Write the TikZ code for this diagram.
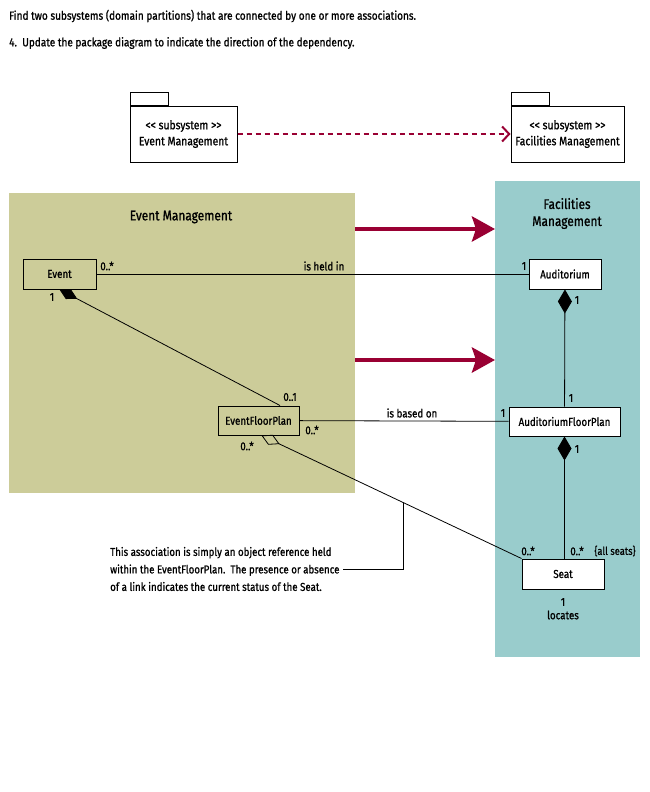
\documentclass[tikz,border=0pt]{standalone}
\usepackage{fontspec}
\setmainfont{Fira Sans}[FakeStretch=0.85, FakeBold=1]
\usetikzlibrary{
  arrows.meta,
  positioning
}
\definecolor{emolive}{RGB}{204,204,153}
\definecolor{fmteal}{RGB}{153,204,204}
\definecolor{depred}{RGB}{153,0,51}

\begin{document}
\begin{tikzpicture}[x=1pt, y=-1pt, font=\fontsize{11.5}{13}\selectfont,
  classbox/.style={draw, line width=1pt, inner sep=0pt, minimum height=30pt},
  pkgbox/.style={draw, fill=white, line width=1pt, inner sep=0pt, minimum height=56pt,
    align=center, font=\fontsize{12.2}{16}\selectfont},
  pkgtab/.style={draw, fill=white, line width=1pt, inner sep=0pt, minimum width=38pt,
    minimum height=13pt, anchor=south west},
  region/.style={inner sep=0pt, outer sep=0pt},
  regiontitle/.style={font=\fontsize{14}{17}\selectfont, align=center, inner sep=0pt},
  mult/.style={inner sep=0pt},
  assoc/.style={line width=0.8pt},
  dependency/.style={depred, line width=2pt, dash pattern=on 5pt off 4pt,
    -{Straight Barb[length=7pt, width=15pt]}},
  bigarrow/.style={depred, line width=4.5pt, -{Stealth[length=23pt, width=25pt, inset=4pt]}}
]
  \useasboundingbox (0,0) rectangle (650,792);
  \fill[white] (0,0) rectangle (650,792);

  % Instructions
  \node[anchor=west, inner sep=0pt, font=\fontsize{11.8}{13}\selectfont] (task) at (9,16)
    {Find two subsystems (domain partitions) that are connected by one or more associations.};
  \node[anchor=west, inner sep=0pt, font=\fontsize{11.8}{13}\selectfont] (stepfour) at (9,43)
    {4.\ \ Update the package diagram to indicate the direction of the dependency.};

  % Packages
  \node[pkgbox, minimum width=107pt] (empkg) at (183.5,134) {<{}< subsystem >{}>\\Event Management};
  \node[pkgtab] (emtab) at (empkg.north west) {};
  \node[pkgbox, minimum width=113pt] (fmpkg) at (567.5,134) {<{}< subsystem >{}>\\Facilities Management};
  \node[pkgtab] (fmtab) at (fmpkg.north west) {};
  \draw[dependency] (empkg) -- (fmpkg);

  % Subsystem regions
  \node[region, fill=emolive, minimum width=346pt, minimum height=300pt] (emregion) at (182,343) {};
  \node[region, fill=fmteal, minimum width=145pt, minimum height=476pt] (fmregion) at (567.5,419) {};
  \node[regiontitle] (emtitle) at (181,217) {Event Management};
  \node[regiontitle] (fmtitle) at (567,213.5) {Facilities\\Management};

  % Dependency arrows
  \coordinate (upperlane) at (0,229);
  \coordinate (lowerlane) at (0,360);
  \draw[bigarrow] (emregion.east |- upperlane) -- (fmregion.west |- upperlane);
  \draw[bigarrow] (emregion.east |- lowerlane) -- (fmregion.west |- lowerlane);

  % Classes
  \node[classbox, fill=emolive, minimum width=73pt] (event) at (59.5,274) {Event};
  \node[classbox, fill=emolive, minimum width=81pt, minimum height=29pt] (efp) at (258.5,420.5) {EventFloorPlan};
  \node[classbox, fill=white, minimum width=72pt] (auditorium) at (565,274) {Auditorium};
  \node[classbox, fill=white, minimum width=111pt, minimum height=29pt] (afp) at (564.5,421.5) {AuditoriumFloorPlan};
  \node[classbox, fill=white, minimum width=82pt] (seat) at (563,574) {Seat};

  % Associations
  \draw[assoc] (event) -- (auditorium);
  \draw[assoc] (efp) -- (afp);
  \draw[assoc, {Diamond[length=20pt, width=11pt]}-] (event.south) -- ([xshift=21.5pt]efp.north);
  \draw[assoc, {Diamond[length=24pt, width=14pt]}-] (auditorium) -- (afp);
  \draw[assoc, {Diamond[length=24pt, width=14pt]}-] (afp.south) -- (afp.south |- seat.north);
  \draw[assoc, {Diamond[open, length=20pt, width=11pt]}-] ([xshift=3pt]efp.south)
    -- coordinate[pos=0.545] (noteref) (seat.north west);

  % Note
  \node[anchor=west, align=left, inner sep=3pt, font=\fontsize{11.4}{17.5}\selectfont] (note) at (107,569)
    {This association is simply an object reference held\\
     within the EventFloorPlan.\ \ The presence or absence\\
     of a link indicates the current status of the Seat.};
  \draw[assoc] (noteref) |- (note.east);

  % Multiplicities and role names
  \node[mult] (evmany) at (107,266) {0..*};
  \node[mult] (heldin) at (324,266) {is held in};
  \node[mult] (audone) at (524,266) {1};
  \node[mult] (evone) at (52,297) {1};
  \node[mult] (efpopt) at (290,397) {0..1};
  \node[mult] (efpmany) at (312,430) {0..*};
  \node[mult] (efpseatmany) at (247,446) {0..*};
  \node[mult] (basedon) at (412,413) {is based on};
  \node[mult] (afpone) at (503,413) {1};
  \node[mult] (audwhole) at (577,300) {1};
  \node[mult] (afppart) at (571,398) {1};
  \node[mult] (afpwhole) at (577,449) {1};
  \node[mult] (seatmany) at (528,551) {0..*};
  \node[mult] (seatall) at (577,551) {0..*};
  \node[mult, font=\fontsize{11}{13}\selectfont] (allseats) at (615,551) {\{all seats\}};
  \node[mult] (seatone) at (563,602) {1};
  \node[mult] (locates) at (563,615) {locates};
\end{tikzpicture}
\end{document}
